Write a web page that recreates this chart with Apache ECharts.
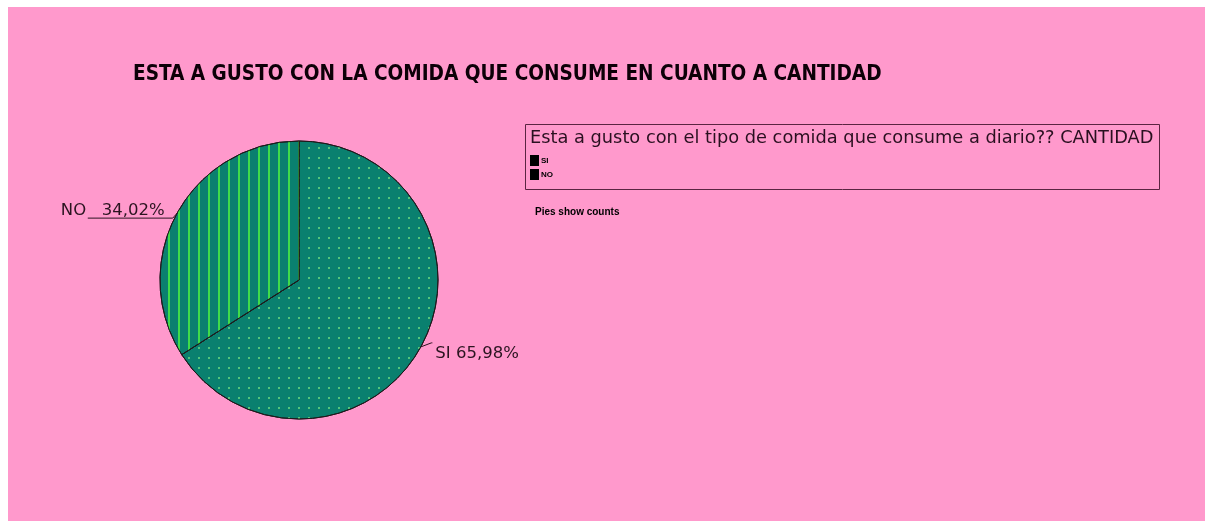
<!DOCTYPE html>
<html>
<head>
<meta charset="utf-8">
<style>
  html, body { margin: 0; padding: 0; background: #ffffff; width: 1205px; height: 521px; overflow: hidden; }
  #chart { position: absolute; left: 8px; top: 7px; width: 1197px; height: 514px; }
</style>
<script src="https://cdn.jsdelivr.net/npm/echarts@6/dist/echarts.min.js"></script>
</head>
<body>
<div id="chart"></div>
<script>
// Survey answers and their shares (percent)
const categories = ['SI', 'NO'];
const shares = [65.98, 34.02];
const shareLabels = ['65,98%', '34,02%'];

const titleText = 'ESTA A GUSTO CON LA COMIDA QUE CONSUME EN CUANTO A CANTIDAD';
const legendHeader = 'Esta a gusto con el tipo de comida que consume a diario?? CANTIDAD';
const footNote = 'Pies show counts';

const TEAL = '#0a806f';
const INK = '#2b1420';

// Fill patterns: fine dots for SI, vertical green stripes for NO
const dotDecal = {
  symbol: 'rect', symbolSize: 1, color: '#52c47a',
  dashArrayX: [1.5, 7.5], dashArrayY: [1.5, 7.5], rotation: 0
};
const stripeDecal = {
  symbol: 'rect', symbolSize: 1, color: '#3fdc4a',
  dashArrayX: [2, 7.3], dashArrayY: [1, 0], rotation: 0
};

// SI text sits just below its leader; NO text rides on top of its horizontal leader
const labelFormats = [
  (txt) => '{gap|}\n{t|' + txt + '}',
  (txt) => '{t|' + txt + '}\n{gap2|}'
];
const nameSeparators = [' ', '   '];
const labelOffsets = [3, -77];
const lineShapes = [
  { length: 12, length2: 1 },
  { length: 5, length2: 85 }
];

const pieData = categories.map((name, i) => ({
  name,
  value: shares[i],
  itemStyle: { color: TEAL, decal: i === 0 ? dotDecal : stripeDecal },
  label: { distanceToLabelLine: labelOffsets[i] },
  labelLine: Object.assign({}, lineShapes[i])
}));

// Leader lines: SI's tick rises slightly as it leaves the rim; NO's leader
// drops a little below its rim anchor and runs left under the percentage,
// with the label lifted to sit on it.
function layoutLabel(p) {
  const pts = p.labelLinePoints;
  if (!pts) return {};
  if (p.dataIndex === 0) {
    const y = pts[0][1] - 4;
    return { labelLinePoints: [pts[0], [pts[1][0], y], [pts[2][0], y]] };
  }
  const y = pts[0][1] + 5;
  return {
    dy: (y - pts[2][1]) - 5,
    labelLinePoints: [pts[0], [pts[1][0], y], [pts[2][0], y]]
  };
}

const chart = echarts.init(document.getElementById('chart'), null, { renderer: 'canvas' });

chart.setOption({
  backgroundColor: '#ff99cc',
  animation: false,
  title: {
    text: titleText,
    left: 120, top: 52,
    textStyle: {
      fontFamily: '"Liberation Sans Narrow", "DejaVu Sans Condensed", "DejaVu Sans", sans-serif',
      fontWeight: 'bold', fontSize: 20.6, color: '#0d0008'
    }
  },
  legend: {
    orient: 'vertical',
    left: 522, top: 148, padding: 0,
    itemWidth: 9, itemHeight: 11, itemGap: 3,
    icon: 'rect',
    data: categories,
    itemStyle: { color: '#000000', decal: 'none', borderWidth: 0 },
    textStyle: { fontSize: 8, fontWeight: 'bold', color: '#000', padding: [0, 0, 0, -3] },
    selectedMode: false
  },
  graphic: [
    {
      type: 'rect', left: 515, top: 115, z: 1,
      shape: { width: 634, height: 65 },
      style: { fill: 'none', stroke: '#5a2441', lineWidth: 1 }
    },
    {
      type: 'text', left: 522, top: 122, z: 2,
      style: {
        text: legendHeader, fill: '#2a1020',
        font: '17.8px "DejaVu Sans", sans-serif',
        width: 645, overflow: 'truncate', ellipsis: ''
      }
    },
    {
      type: 'text', left: 527, top: 200, z: 2,
      style: {
        text: footNote, fill: '#000',
        font: 'bold 10px "Liberation Sans", sans-serif'
      }
    }
  ],
  series: [{
    type: 'pie',
    center: [291, 273],
    radius: 139,
    startAngle: 90,
    clockwise: true,
    avoidLabelOverlap: false,
    itemStyle: { borderColor: '#1e1a1c', borderWidth: 1 },
    label: {
      show: true,
      position: 'outside',
      formatter: p => labelFormats[p.dataIndex](
        p.name + nameSeparators[p.dataIndex] + shareLabels[p.dataIndex]),
      color: INK,
      rich: {
        t: { fontFamily: '"DejaVu Sans", sans-serif', fontSize: 16.5, lineHeight: 18, color: INK },
        gap: { lineHeight: 2 },
        gap2: { lineHeight: 4 }
      }
    },
    labelLine: {
      show: true,
      lineStyle: { color: INK, width: 1 }
    },
    labelLayout: layoutLabel,
    emphasis: { disabled: true },
    data: pieData
  }]
});
</script>
</body>
</html>
